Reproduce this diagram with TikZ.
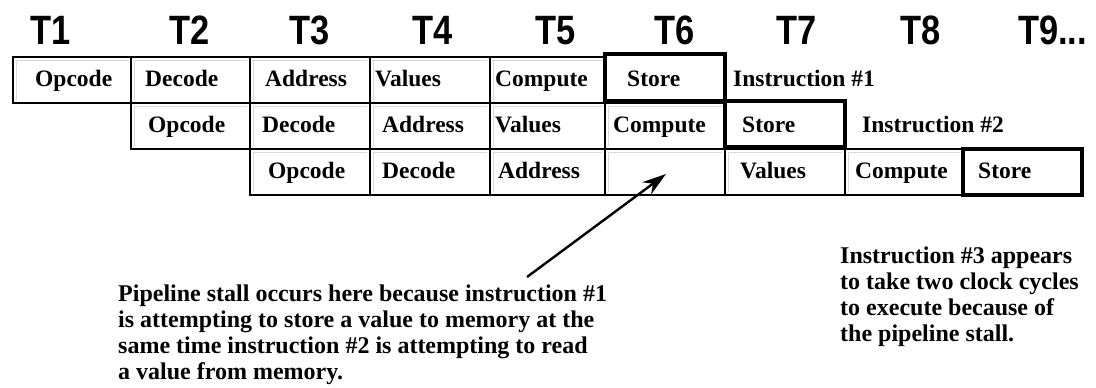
\documentclass[tikz,border=0pt]{standalone}
\usepackage{fontspec}
\setmainfont{Liberation Serif}
\setsansfont{Liberation Sans}
\usetikzlibrary{arrows.meta}
\tikzset{
  cell/.style={draw=black, line width=1.6pt, anchor=north west, minimum width=#1, minimum height=46pt, inner sep=0pt, outer sep=0pt,
    path picture={\draw[gray!30, line width=1pt] ([shift={(3pt,3pt)}]path picture bounding box.south west) |- ([shift={(-3pt,-3pt)}]path picture bounding box.north east);}},
  cell/.default=118pt,
  storebox/.style={draw=black, line width=4.5pt, anchor=north west, minimum height=46pt, inner sep=0pt, outer sep=0pt},
  txt/.style={anchor=base west, inner sep=0pt, font=\bfseries\fontsize{23.5}{26}\selectfont},
  tlab/.style={anchor=base, inner sep=0pt, font=\sffamily\bfseries\fontsize{41}{41}\selectfont, xscale=0.84, transform shape},
  note/.style={anchor=north west, inner sep=0pt, align=left, font=\bfseries\fontsize{24}{25.8}\selectfont},
  stallarrow/.style={line width=2.4pt, -{Stealth[length=24pt,width=15pt]}}
}
\begin{document}
\begin{tikzpicture}[x=1pt,y=-1pt]
\useasboundingbox (0,0) rectangle (1096,388);
% time labels
\node[tlab] (t1) at (51,45) {T1};
\node[tlab] (t2) at (190,45) {T2};
\node[tlab] (t3) at (310,45) {T3};
\node[tlab] (t4) at (433,45) {T4};
\node[tlab] (t5) at (556,45) {T5};
\node[tlab] (t6) at (675,45) {T6};
\node[tlab] (t7) at (797,45) {T7};
\node[tlab] (t8) at (921,45) {T8};
\node[tlab, anchor=base west] (t9) at (1018,45) {T9...};
% row 1
\node[cell=118pt] (a1) at (13,57) {};
\node[cell=119pt] (a2) at (131,57) {};
\node[cell=120pt] (a3) at (250,57) {};
\node[cell=120pt] (a4) at (370,57) {};
\node[cell=115pt] (a5) at (490,57) {};
\node[storebox, minimum width=120pt, minimum height=47pt] (a6) at (605,54) {};
\draw[line width=2.6pt] (a1.north west) rectangle (a5.south east);
% row 2
\node[cell=119pt] (b1) at (131,103) {};
\node[cell=120pt] (b2) at (250,103) {};
\node[cell=120pt] (b3) at (370,103) {};
\node[cell=115pt] (b4) at (490,103) {};
\node[cell=120pt] (b5) at (605,103) {};
\node[storebox, minimum width=120pt] (b6) at (725,101) {};
\draw[line width=2.6pt] (b1.north west) rectangle (b5.south east);
% row 3
\node[cell=120pt] (c1) at (250,149) {};
\node[cell=120pt] (c2) at (370,149) {};
\node[cell=115pt] (c3) at (490,149) {};
\node[cell=120pt] (c4) at (605,149) {};
\node[cell=120pt] (c5) at (725,149) {};
\node[cell=118pt] (c6) at (845,149) {};
\node[storebox, minimum width=119pt] (c7) at (963,149) {};
\draw[line width=2.6pt] (c1.north west) rectangle (c6.south east);
% cell texts row 1
\node[txt] (a1t) at (35,86) {Opcode};
\node[txt] (a2t) at (145,86) {Decode};
\node[txt] (a3t) at (265,86) {Address};
\node[txt] (a4t) at (375,86) {Values};
\node[txt] (a5t) at (495,86) {Compute};
\node[txt] (a6t) at (627,86) {Store};
\node[txt] (i1) at (733,86) {Instruction \#1};
% row 2
\node[txt] (b1t) at (148,132) {Opcode};
\node[txt] (b2t) at (262,132) {Decode};
\node[txt] (b3t) at (382,132) {Address};
\node[txt] (b4t) at (495,132) {Values};
\node[txt] (b5t) at (613,132) {Compute};
\node[txt] (b6t) at (742,132) {Store};
\node[txt] (i2) at (862,132) {Instruction \#2};
% row 3
\node[txt] (c1t) at (268,178) {Opcode};
\node[txt] (c2t) at (382,178) {Decode};
\node[txt] (c3t) at (498,178) {Address};
\node[txt] (c5t) at (740,178) {Values};
\node[txt] (c6t) at (855,178) {Compute};
\node[txt] (c7t) at (978,178) {Store};
% notes
\node[note] (n1) at (118,285) {Pipeline stall occurs here because instruction \#1\\is attempting to store a value to memory at the\\same time instruction \#2 is attempting to read\\a value from memory.};
\node[note] (n2) at (840,247) {Instruction \#3 appears\\to take two clock cycles\\to execute because of\\the pipeline stall.};
% arrow
\coordinate (tail) at (527,277);
\coordinate (stall) at (666,174);
\draw[stallarrow] (tail) -- (stall);
\end{tikzpicture}
\end{document}
